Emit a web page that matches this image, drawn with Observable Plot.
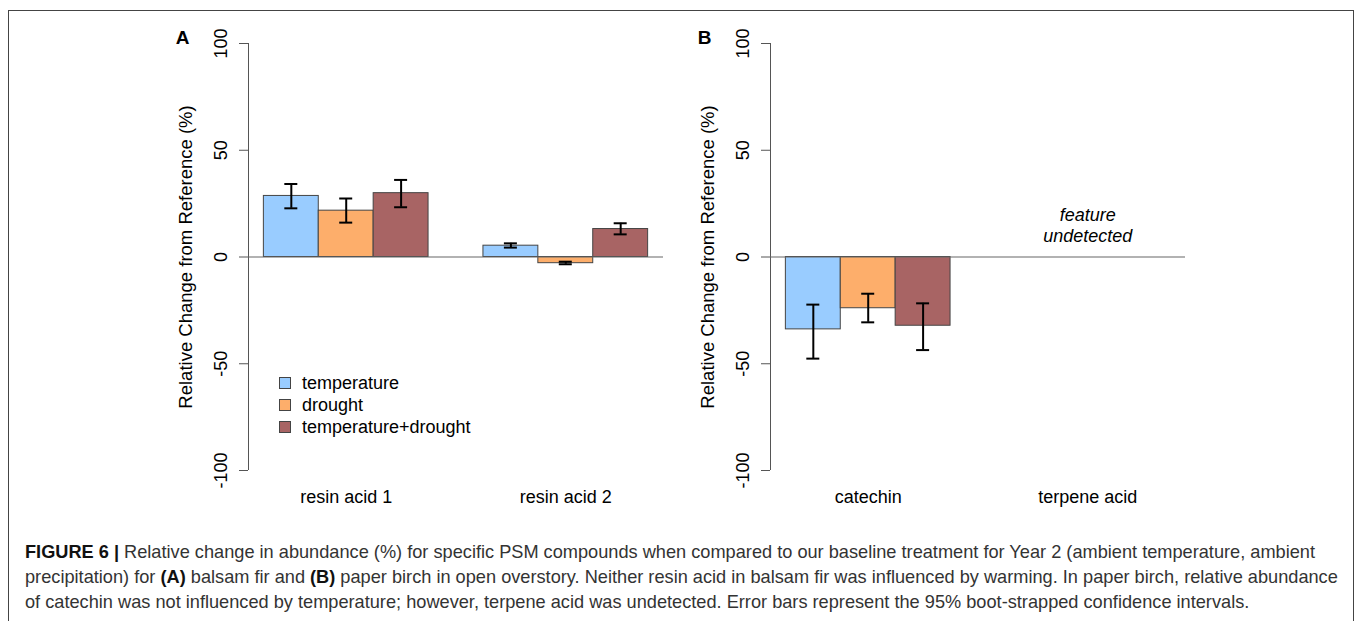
<!DOCTYPE html>
<html>
<head>
<meta charset="utf-8">
<script src="https://cdn.jsdelivr.net/npm/d3@7"></script>
<script src="https://cdn.jsdelivr.net/npm/@observablehq/plot@0.6"></script>
<style>
  html, body { margin: 0; padding: 0; background: #fff; }
  body { width: 1358px; height: 621px; overflow: hidden; position: relative; font-family: "Liberation Sans", Arial, sans-serif; }
  #frame { position: absolute; left: 8px; top: 10px; width: 1346px; height: 700px; border: 1px solid #444; box-sizing: border-box; }
  .panel { position: absolute; top: 0; }
  #legend { position: absolute; left: 279px; top: 372px; font-size: 18px; color: #000; }
  #legend .row { display: flex; align-items: center; height: 22px; }
  #legend .sw { width: 12px; height: 12px; border: 1px solid #444; margin-right: 11px; box-sizing: border-box; }
  #caption { position: absolute; left: 25px; top: 540px; font-size: 18.2px; line-height: 25px; color: #333; white-space: nowrap; }
  #caption b { color: #111; }
</style>
</head>
<body>
<div id="frame"></div>
<div id="panelA" class="panel" style="left:130px"></div>
<div id="panelB" class="panel" style="left:652px"></div>
<div id="legend"></div>
<div id="caption"></div>
<script>
// ---- data ----
const treatments = ["temperature", "drought", "temperature+drought"];
const colors = ["#99ccff", "#fdae6b", "#a86464"];

const panelACompounds = ["resin acid 1", "resin acid 2"];
const panelBCompounds = ["catechin", "terpene acid"];

const resinAcid1Mean = [28.6, 21.7, 29.9];
const resinAcid1Low  = [22.8, 16.1, 23.3];
const resinAcid1High = [34.2, 27.4, 36.1];

const resinAcid2Mean = [5.3, -2.9, 13.1];
const resinAcid2Low  = [4.4, -3.4, 10.6];
const resinAcid2High = [6.4, -2.2, 15.8];

const catechinMean = [-33.9, -24.0, -32.2];
const catechinLow  = [-47.6, -30.6, -43.6];
const catechinHigh = [-22.3, -17.2, -21.7];

// terpene acid was undetected: no values
const terpeneAcidMean = null;

const yTicks = [-100, -50, 0, 50, 100];
const yLabel = "Relative Change from Reference (%)";
const undetectedNote = "feature\nundetected";

// ---- build rows ----
function rowsFor(groupIndex, mean, low, high) {
  if (!mean) return [];
  return treatments.map((t, s) => ({
    treatment: t,
    x1: 1 + 4 * groupIndex + s,
    x2: 2 + 4 * groupIndex + s,
    xc: 1.5 + 4 * groupIndex + s,
    value: mean[s],
    low: low[s],
    high: high[s]
  }));
}

const xDomain = [0.72, 8.28];
const font = "Liberation Sans, Arial, sans-serif";

function panel(letter, compounds, rows, notes) {
  const groups = compounds.map((c, g) => ({name: c, xc: 2.5 + 4 * g}));
  return Plot.plot({
    width: 553,
    height: 510,
    marginLeft: 118,
    marginRight: 20,
    marginTop: 43,
    marginBottom: 40,
    style: {fontFamily: font, fontSize: "18px", color: "#000", background: "transparent", overflow: "visible"},
    x: {domain: xDomain, axis: null},
    y: {domain: [-100, 100], axis: null},
    color: {domain: treatments, range: colors},
    marks: [
      Plot.ruleX([xDomain[0]], {y1: -100, y2: 100, stroke: "#555", strokeWidth: 1}),
      Plot.axisY({ticks: yTicks, tickSize: 9, tickFormat: () => "", stroke: "#555", label: null}),
      Plot.text(yTicks, {y: d => d, text: d => String(d), frameAnchor: "left", dx: -27, rotate: -90, textAnchor: "middle", lineAnchor: "middle", fontSize: 18, fill: "#000"}),
      Plot.text([yLabel], {frameAnchor: "left", dx: -62, rotate: -90, textAnchor: "middle", lineAnchor: "middle", fontSize: 18.5, fill: "#000", text: d => d}),
      Plot.text([letter], {frameAnchor: "top-left", dx: -66, dy: -6, textAnchor: "middle", lineAnchor: "middle", fontSize: 19, fontWeight: "bold", fill: "#000", text: d => d}),
      Plot.rect(rows, {x1: "x1", x2: "x2", y1: 0, y2: "value", fill: "treatment", stroke: "#444", strokeWidth: 1}),
      Plot.ruleY([0], {stroke: "#666", strokeWidth: 1.2}),
      Plot.ruleX(rows, {x: "xc", y1: "low", y2: "high", stroke: "#000", strokeWidth: 2}),
      Plot.ruleY(rows, {y: "low", x1: "xc", x2: "xc", insetLeft: -6.5, insetRight: -6.5, stroke: "#000", strokeWidth: 2}),
      Plot.ruleY(rows, {y: "high", x1: "xc", x2: "xc", insetLeft: -6.5, insetRight: -6.5, stroke: "#000", strokeWidth: 2}),
      Plot.text(groups, {x: "xc", text: "name", frameAnchor: "bottom", dy: 27, lineAnchor: "middle", fontSize: 18, fill: "#000"}),
      Plot.text(notes, {x: "xc", y: "y", text: "text", fontSize: 18, fontStyle: "italic", lineHeight: 1.15, fill: "#000"})
    ]
  });
}

const rowsA = [
  ...rowsFor(0, resinAcid1Mean, resinAcid1Low, resinAcid1High),
  ...rowsFor(1, resinAcid2Mean, resinAcid2Low, resinAcid2High)
];
const rowsB = [
  ...rowsFor(0, catechinMean, catechinLow, catechinHigh),
  ...rowsFor(1, terpeneAcidMean, null, null)
];

document.getElementById("panelA").appendChild(panel("A", panelACompounds, rowsA, []));
document.getElementById("panelB").appendChild(panel("B", panelBCompounds, rowsB,
  terpeneAcidMean ? [] : [{xc: 6.5, y: 15.0, text: undetectedNote}]));

// legend
const legend = document.getElementById("legend");
treatments.forEach((t, i) => {
  const row = document.createElement("div");
  row.className = "row";
  const sw = document.createElement("div");
  sw.className = "sw";
  sw.style.background = colors[i];
  const lab = document.createElement("span");
  lab.textContent = t;
  row.appendChild(sw);
  row.appendChild(lab);
  legend.appendChild(row);
});

// caption
document.getElementById("caption").innerHTML =
  "<b>FIGURE 6 |</b> Relative change in abundance (%) for specific PSM compounds when compared to our baseline treatment for Year 2 (ambient temperature, ambient<br>" +
  "precipitation) for <b>(A)</b> balsam fir and <b>(B)</b> paper birch in open overstory. Neither resin acid in balsam fir was influenced by warming. In paper birch, relative abundance<br>" +
  "of catechin was not influenced by temperature; however, terpene acid was undetected. Error bars represent the 95% boot-strapped confidence intervals.";
</script>
</body>
</html>
